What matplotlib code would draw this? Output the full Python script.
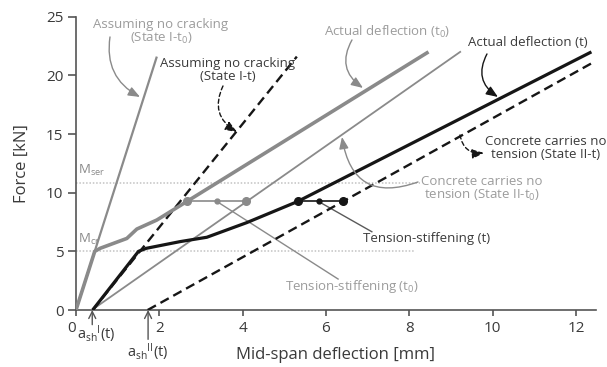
import matplotlib
matplotlib.use("Agg")
import matplotlib.pyplot as plt

plt.rcParams['font.family'] = ['Open Sans', 'DejaVu Sans']
plt.rcParams['mathtext.fontset'] = 'custom'
plt.rcParams['mathtext.rm'] = 'Open Sans'
plt.rcParams['mathtext.it'] = 'Open Sans'
plt.rcParams['mathtext.default'] = 'rm'

# ---------------- data ----------------
state1_t0_x = [0.0, 1.94]
state1_t0_y = [0.0, 21.6]
state1_t_x = [0.40, 5.30]
state1_t_y = [0.0, 21.6]
state2_t0_x = [0.38, 9.22]
state2_t0_y = [0.0, 22.0]
state2_t_x = [1.72, 12.46]
state2_t_y = [0.0, 21.2]

actual_t0_x = [0.0, 0.45, 0.58, 1.22, 1.46, 1.94, 2.66, 8.46]
actual_t0_y = [0.0, 5.0, 5.26, 6.1, 6.9, 7.67, 9.25, 22.0]
actual_t_x = [0.40, 1.50, 1.69, 2.50, 3.14, 4.10, 5.32, 12.37]
actual_t_y = [0.0, 5.0, 5.26, 5.83, 6.2, 7.45, 9.25, 22.0]

ts_t0_x = [2.66, 3.38, 4.09]
ts_t0_y = [9.25, 9.25, 9.25]
ts_t_x = [5.32, 5.82, 6.41]
ts_t_y = [9.25, 9.25, 9.25]

m_ser = 10.85
m_cr = 5.0
m_ser_end = 8.26
m_cr_end = 8.14

ash1 = 0.39
ash2 = 1.73

x_ticks = [0, 2, 4, 6, 8, 10, 12]
x_tick_labels = ["0", "2", "4", "6", "8", "10", "12"]
y_ticks = [0, 5, 10, 15, 20, 25]
y_tick_labels = ["0", "5", "10", "15", "20", "25"]

GRAY = "#8a8a8a"
LGRAY = "#9c9c9c"
BLACK = "#161616"
TXT = "#3a3a3a"

fig = plt.figure(figsize=(6.07, 3.67), dpi=100)
ax = fig.add_axes([76/607, 1 - 310/367, (596-76)/607, (310-16.7)/367])
ax.set_xlim(0, 12.48)
ax.set_ylim(0, 25)

# reference lines
ax.plot([0, m_ser_end], [m_ser, m_ser], color="#c2c2c2", lw=1.1, ls=(0, (1, 1.2)), zorder=1)
ax.plot([0, m_cr_end], [m_cr, m_cr], color="#c2c2c2", lw=1.1, ls=(0, (1, 1.2)), zorder=1)

# state lines
ax.plot(state1_t0_x, state1_t0_y, color=GRAY, lw=1.6, zorder=3, solid_capstyle='butt')
ax.plot(state2_t0_x, state2_t0_y, color=GRAY, lw=1.3, zorder=3)
ax.plot(state1_t_x, state1_t_y, color=BLACK, lw=1.7, ls=(0, (4, 2.2)), zorder=3)
ax.plot(state2_t_x, state2_t_y, color=BLACK, lw=1.7, ls=(0, (4, 2.2)), zorder=3)

# actual curves
ax.plot(actual_t0_x, actual_t0_y, color=GRAY, lw=2.6, zorder=4, solid_capstyle='butt')
ax.plot(actual_t_x, actual_t_y, color=BLACK, lw=2.3, zorder=4, solid_capstyle='butt')

# tension stiffening
ax.plot(ts_t0_x, ts_t0_y, color=GRAY, lw=1.2, zorder=5)
ax.plot([ts_t0_x[0], ts_t0_x[2]], [ts_t0_y[0], ts_t0_y[2]], 'o', color=GRAY, ms=5.5, zorder=6)
ax.plot([ts_t0_x[1]], [ts_t0_y[1]], 'o', color=GRAY, ms=3.5, zorder=6)
ax.plot(ts_t_x, ts_t_y, color=BLACK, lw=1.2, zorder=5)
ax.plot([ts_t_x[0], ts_t_x[2]], [ts_t_y[0], ts_t_y[2]], 'o', color=BLACK, ms=5.5, zorder=6)
ax.plot([ts_t_x[1]], [ts_t_y[1]], 'o', color=BLACK, ms=3.5, zorder=6)

# leader lines for tension stiffening
ax.plot([ts_t0_x[1], 6.29], [ts_t0_y[1], 2.64], color=GRAY, lw=1.0, zorder=2)
ax.plot([ts_t_x[1], 7.1], [ts_t_y[1], 6.67], color="#5a5a5a", lw=1.0, zorder=2)

# axes styling
for s in ['top', 'right']:
    ax.spines[s].set_visible(False)
for s in ['left', 'bottom']:
    ax.spines[s].set_color("#555555")
    ax.spines[s].set_linewidth(1.2)
ax.set_xticks(x_ticks)
ax.set_xticklabels(x_tick_labels)
ax.set_yticks(y_ticks)
ax.set_yticklabels(y_tick_labels)
ax.tick_params(axis='x', length=4, width=1.2, color="#555555", labelsize=11, labelcolor=TXT, pad=4)
ax.tick_params(axis='y', length=6, width=1.2, color="#555555", labelsize=11, labelcolor=TXT, pad=3)
ax.get_xticklabels()[0].set_ha('right')
ax.set_xlabel("Mid-span deflection [mm]", fontsize=12, color=TXT, labelpad=8)
ax.set_ylabel("Force [kN]", fontsize=12, color=TXT, labelpad=12)

# M labels
ax.text(0.05, 11.25, r"M$_{ser}$", fontsize=9.5, color=GRAY, ha='left', va='bottom')
ax.text(0.05, 5.35, r"M$_{cr}$", fontsize=9.5, color=GRAY, ha='left', va='bottom')

# text annotations
fs = 9.5
def px(xp, yp):
    return ((xp - 76) / 41.67, (310 - yp) / 11.73)

ax.text(*px(161, 32), "Assuming no cracking\n(State I-t$_0$)", fontsize=fs, color=LGRAY,
        ha='center', va='center', linespacing=1.0, multialignment='center')
ax.text(*px(228, 70), "Assuming no cracking\n(State I-t)", fontsize=fs, color=TXT,
        ha='center', va='center', linespacing=1.0, multialignment='center')
ax.text(*px(387, 32), "Actual deflection (t$_0$)", fontsize=fs, color=LGRAY, ha='center', va='center')
ax.text(*px(528, 43), "Actual deflection (t)", fontsize=fs, color=TXT, ha='center', va='center')
ax.text(*px(546, 148), "Concrete carries no\ntension (State II-t)", fontsize=fs, color=TXT,
        ha='center', va='center', linespacing=1.0, multialignment='center')
ax.text(*px(482, 189), "Concrete carries no\ntension (State II-t$_0$)", fontsize=fs, color=LGRAY,
        ha='center', va='center', linespacing=1.0, multialignment='center')
ax.text(*px(427, 239), "Tension-stiffening (t)", fontsize=fs, color=TXT, ha='center', va='center')
ax.text(*px(352, 287), "Tension-stiffening (t$_0$)", fontsize=fs, color=LGRAY, ha='center', va='center')

def arrow(p_from, p_to, color, rad, ls='-'):
    ax.annotate("", xy=px(*p_to), xytext=px(*p_from),
                arrowprops=dict(arrowstyle='-|>,head_length=0.7,head_width=0.28',
                                color=color, lw=1.0, ls=ls, mutation_scale=10,
                                connectionstyle=f"arc3,rad={rad}", shrinkA=0, shrinkB=0),
                zorder=7)

arrow((110, 37), (140, 97), GRAY, 0.35)
arrow((223, 86), (237, 132), BLACK, 0.45, ls=(0, (3, 2)))
arrow((352, 40), (363, 88), GRAY, 0.45)
arrow((487, 54), (498, 97), BLACK, 0.45)
arrow((460, 135), (484, 153), BLACK, 0.45, ls=(0, (3, 2)))
arrow((418, 182), (342, 137), GRAY, -0.6)

# shrinkage offsets
ax.annotate("", xy=(ash1, 0), xytext=(ash1, -1.25), annotation_clip=False,
            arrowprops=dict(arrowstyle='->,head_length=0.5,head_width=0.25', color="#555555",
                            lw=1.0, shrinkA=0, shrinkB=0, mutation_scale=10))
ax.annotate("", xy=(ash2, 0), xytext=(ash2, -2.5), annotation_clip=False,
            arrowprops=dict(arrowstyle='->,head_length=0.5,head_width=0.25', color="#555555",
                            lw=1.0, shrinkA=0, shrinkB=0, mutation_scale=10))
ax.text(0.03, -1.15, r"a$_{sh}{}^{I}$(t)", fontsize=10.5, color=TXT, ha='left', va='top', clip_on=False)
ax.text(ash2, -2.7, r"a$_{sh}{}^{II}$(t)", fontsize=10.5, color=TXT, ha='center', va='top', clip_on=False)

fig.savefig("out.png", dpi=100)
